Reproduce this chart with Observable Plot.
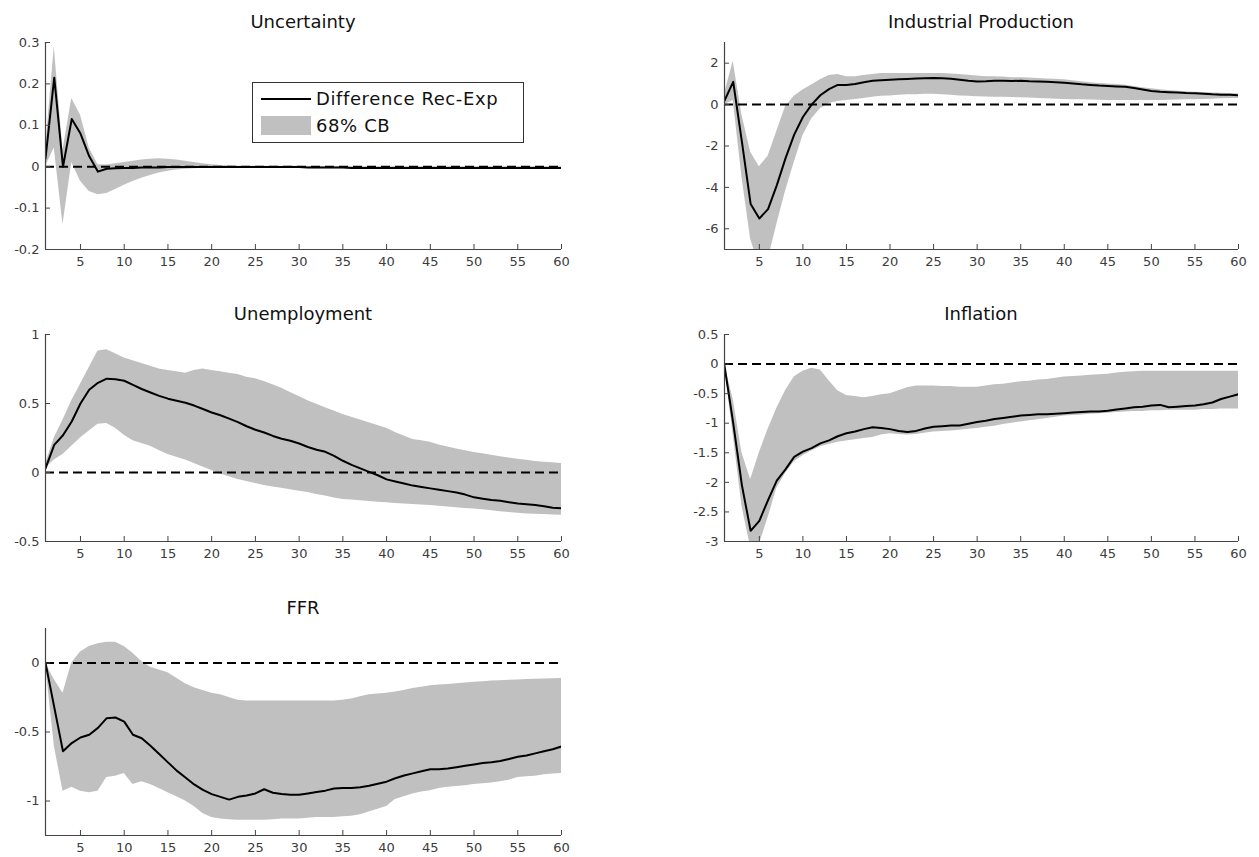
<!DOCTYPE html>
<html>
<head>
<meta charset="utf-8">
<script src="https://cdn.jsdelivr.net/npm/d3@7"></script>
<script src="https://cdn.jsdelivr.net/npm/@observablehq/plot@0.6"></script>
<style>
  body { margin: 0; background: #fff; }
  #chart { position: relative; width: 1259px; height: 857px; background: #fff; font-family: "DejaVu Sans", sans-serif; }
  .ptitle { position: absolute; text-align: center; font-size: 18px; color: #111; line-height: 20px; white-space: nowrap; }
  .panel { position: absolute; }
  .legend { position: absolute; box-sizing: border-box; border: 1px solid #333; background: #fff; font-size: 18px; color: #111; }
</style>
</head>
<body>
<div id="chart"></div>
<script>
// ---------- data ----------
const horizon = Array.from({length: 60}, (_, i) => i + 1);
const xTicks = [5, 10, 15, 20, 25, 30, 35, 40, 45, 50, 55, 60];

const titles = ["Uncertainty", "Industrial Production", "Unemployment", "Inflation", "FFR"];
const legendLabels = ["Difference Rec-Exp", "68% CB"];

// Uncertainty
const uncTicks = [-0.2, -0.1, 0, 0.1, 0.2, 0.3];
const uncMid = [0.02, 0.215, 0.0, 0.115, 0.08, 0.025, -0.012, -0.005, -0.004, -0.003,
  -0.003, -0.002, -0.002, -0.002, -0.001, -0.001, -0.001, -0.001, -0.001, -0.001,
  -0.001, -0.001, -0.001, -0.001, -0.001, -0.001, -0.001, -0.001, -0.001, -0.001,
  -0.002, -0.002, -0.002, -0.002, -0.002, -0.003, -0.003, -0.003, -0.003, -0.003,
  -0.003, -0.003, -0.003, -0.003, -0.003, -0.003, -0.003, -0.003, -0.003, -0.003,
  -0.003, -0.003, -0.003, -0.003, -0.003, -0.003, -0.003, -0.003, -0.003, -0.003];
const uncHi = [0.04, 0.29, 0.04, 0.165, 0.125, 0.045, 0.005, 0.004, 0.007, 0.01,
  0.013, 0.016, 0.018, 0.019, 0.018, 0.016, 0.013, 0.01, 0.007, 0.005,
  0.003, 0.002, 0.001, 0.001, 0.001, 0.001, 0.001, 0.001, 0.001, 0.001,
  0.0, 0.0, 0.0, 0.0, 0.0, 0.0, 0.0, 0.0, 0.0, 0.0,
  0.0, 0.0, 0.0, 0.0, 0.0, 0.0, 0.0, 0.0, 0.0, 0.0,
  0.0, 0.0, 0.0, 0.0, 0.0, 0.0, 0.0, 0.0, 0.0, 0.0];
const uncLo = [0.0, 0.045, -0.14, 0.01, -0.035, -0.06, -0.068, -0.065, -0.055, -0.045,
  -0.036, -0.028, -0.021, -0.015, -0.011, -0.008, -0.006, -0.005, -0.004, -0.004,
  -0.004, -0.004, -0.004, -0.004, -0.004, -0.004, -0.004, -0.004, -0.004, -0.004,
  -0.005, -0.005, -0.005, -0.005, -0.005, -0.005, -0.005, -0.005, -0.005, -0.005,
  -0.005, -0.005, -0.005, -0.005, -0.005, -0.005, -0.005, -0.005, -0.005, -0.005,
  -0.005, -0.005, -0.005, -0.005, -0.005, -0.005, -0.005, -0.005, -0.005, -0.005];

// Industrial Production
const ipTicks = [-6, -4, -2, 0, 2];
const ipMid = [0.2, 1.1, -1.8, -4.8, -5.5, -5.05, -3.9, -2.6, -1.45, -0.6,
  0.0, 0.45, 0.75, 0.95, 0.95, 1.0, 1.08, 1.15, 1.18, 1.2,
  1.22, 1.24, 1.26, 1.27, 1.28, 1.27, 1.25, 1.2, 1.15, 1.12,
  1.13, 1.15, 1.15, 1.14, 1.15, 1.13, 1.12, 1.1, 1.08, 1.05,
  1.02, 0.98, 0.95, 0.92, 0.9, 0.88, 0.86, 0.8, 0.73, 0.66,
  0.62, 0.6, 0.58, 0.56, 0.55, 0.53, 0.5, 0.48, 0.47, 0.45];
const ipHi = [0.5, 2.1, -0.5, -2.3, -3.0, -2.5, -1.3, -0.1, 0.4, 0.7,
  0.95, 1.2, 1.4, 1.45, 1.35, 1.35, 1.4, 1.45, 1.5, 1.5,
  1.5, 1.5, 1.5, 1.5, 1.5, 1.5, 1.48, 1.45, 1.42, 1.38,
  1.35, 1.35, 1.33, 1.3, 1.3, 1.28, 1.26, 1.24, 1.22, 1.2,
  1.15, 1.1, 1.05, 1.02, 1.0, 0.97, 0.93, 0.88, 0.82, 0.76,
  0.72, 0.68, 0.64, 0.62, 0.6, 0.58, 0.56, 0.55, 0.54, 0.53];
const ipLo = [0.0, 0.2, -3.5, -6.5, -7.8, -7.5, -5.8, -4.2, -2.8, -1.5,
  -0.7, -0.2, 0.05, 0.15, 0.2, 0.25, 0.3, 0.35, 0.4, 0.42,
  0.45, 0.47, 0.48, 0.5, 0.5, 0.48, 0.45, 0.42, 0.4, 0.38,
  0.37, 0.36, 0.35, 0.34, 0.33, 0.32, 0.3, 0.28, 0.26, 0.25,
  0.24, 0.23, 0.22, 0.21, 0.2, 0.2, 0.2, 0.2, 0.2, 0.2,
  0.2, 0.21, 0.22, 0.23, 0.24, 0.25, 0.26, 0.28, 0.3, 0.3];

// Unemployment
const unTicks = [-0.5, 0, 0.5, 1];
const unMid = [0.03, 0.2, 0.27, 0.37, 0.5, 0.6, 0.65, 0.68, 0.675, 0.665,
  0.635, 0.605, 0.58, 0.555, 0.535, 0.52, 0.505, 0.485, 0.46, 0.435,
  0.415, 0.39, 0.365, 0.335, 0.31, 0.29, 0.265, 0.245, 0.23, 0.21,
  0.185, 0.165, 0.15, 0.12, 0.085, 0.055, 0.03, 0.005, -0.02, -0.05,
  -0.065, -0.08, -0.095, -0.105, -0.115, -0.125, -0.135, -0.145, -0.16, -0.18,
  -0.19, -0.2, -0.205, -0.215, -0.225, -0.23, -0.235, -0.245, -0.255, -0.26];
const unHi = [0.06, 0.25, 0.38, 0.52, 0.64, 0.76, 0.88, 0.89, 0.86, 0.83,
  0.81, 0.79, 0.77, 0.75, 0.74, 0.73, 0.72, 0.74, 0.75, 0.74,
  0.73, 0.72, 0.71, 0.69, 0.68, 0.66, 0.635, 0.61, 0.58, 0.55,
  0.52, 0.495, 0.47, 0.445, 0.42, 0.4, 0.38, 0.36, 0.34, 0.32,
  0.29, 0.265, 0.24, 0.23, 0.22, 0.2, 0.185, 0.17, 0.158, 0.145,
  0.135, 0.125, 0.115, 0.105, 0.096, 0.088, 0.08, 0.075, 0.07, 0.065];
const unLo = [0.03, 0.09, 0.13, 0.19, 0.25, 0.3, 0.35, 0.355, 0.32, 0.27,
  0.23, 0.21, 0.19, 0.16, 0.13, 0.11, 0.09, 0.065, 0.04, 0.015,
  -0.01, -0.03, -0.05, -0.065, -0.08, -0.095, -0.105, -0.115, -0.125, -0.135,
  -0.145, -0.16, -0.17, -0.185, -0.195, -0.2, -0.205, -0.21, -0.215, -0.22,
  -0.225, -0.228, -0.232, -0.236, -0.24, -0.245, -0.25, -0.255, -0.26, -0.265,
  -0.27, -0.278, -0.285, -0.29, -0.295, -0.3, -0.302, -0.305, -0.308, -0.31];

// Inflation
const infTicks = [-3, -2.5, -2, -1.5, -1, -0.5, 0, 0.5];
const infMid = [-0.03, -1.0, -2.05, -2.82, -2.65, -2.3, -1.97, -1.78, -1.57, -1.48,
  -1.42, -1.34, -1.29, -1.22, -1.17, -1.14, -1.1, -1.07, -1.08, -1.1,
  -1.13, -1.15, -1.13, -1.09, -1.06, -1.05, -1.04, -1.04, -1.01, -0.98,
  -0.96, -0.93, -0.91, -0.89, -0.87, -0.86, -0.85, -0.85, -0.84, -0.83,
  -0.82, -0.81, -0.8, -0.8, -0.79, -0.77, -0.75, -0.73, -0.72, -0.7,
  -0.69, -0.73, -0.72, -0.71, -0.7, -0.68, -0.65, -0.59, -0.55, -0.51];
const infHi = [0.0, -0.6, -1.5, -1.95, -1.5, -1.1, -0.75, -0.45, -0.22, -0.12,
  -0.07, -0.1, -0.28, -0.45, -0.53, -0.55, -0.57, -0.55, -0.52, -0.5,
  -0.45, -0.4, -0.37, -0.37, -0.37, -0.38, -0.38, -0.39, -0.39, -0.39,
  -0.37, -0.35, -0.34, -0.32, -0.3, -0.29, -0.27, -0.26, -0.24, -0.22,
  -0.21, -0.2, -0.19, -0.18, -0.17, -0.15, -0.14, -0.13, -0.12, -0.12,
  -0.12, -0.12, -0.12, -0.12, -0.12, -0.12, -0.12, -0.12, -0.12, -0.12];
const infLo = [-0.03, -1.2, -2.4, -3.1, -3.05, -2.6, -2.1, -1.85, -1.65, -1.55,
  -1.47, -1.4, -1.36, -1.32, -1.3, -1.28, -1.26, -1.24, -1.2, -1.18,
  -1.19, -1.2, -1.19, -1.17, -1.15, -1.14, -1.13, -1.12, -1.1, -1.09,
  -1.07, -1.05, -1.02, -1.0, -0.98, -0.96, -0.94, -0.92, -0.9, -0.88,
  -0.87, -0.86, -0.85, -0.84, -0.83, -0.82, -0.81, -0.8, -0.8, -0.79,
  -0.79, -0.78, -0.78, -0.78, -0.78, -0.77, -0.77, -0.76, -0.76, -0.76];

// FFR
const ffrTicks = [-1, -0.5, 0];
const ffrMid = [0.0, -0.32, -0.64, -0.58, -0.54, -0.52, -0.47, -0.4, -0.395, -0.425,
  -0.52, -0.545, -0.6, -0.66, -0.72, -0.78, -0.83, -0.88, -0.92, -0.95,
  -0.97, -0.99, -0.97, -0.96, -0.945, -0.915, -0.94, -0.95, -0.955, -0.955,
  -0.945, -0.935, -0.925, -0.91, -0.905, -0.905, -0.9, -0.89, -0.875, -0.86,
  -0.835, -0.815, -0.8, -0.785, -0.77, -0.77, -0.765, -0.755, -0.745, -0.735,
  -0.725, -0.72, -0.71, -0.695, -0.68, -0.67, -0.655, -0.64, -0.625, -0.605];
const ffrHi = [0.0, -0.12, -0.22, 0.0, 0.08, 0.12, 0.14, 0.15, 0.15, 0.12,
  0.07, 0.01, -0.03, -0.05, -0.07, -0.11, -0.15, -0.18, -0.2, -0.22,
  -0.23, -0.25, -0.27, -0.275, -0.275, -0.275, -0.275, -0.275, -0.275, -0.275,
  -0.275, -0.275, -0.275, -0.275, -0.27, -0.26, -0.245, -0.23, -0.225, -0.22,
  -0.21, -0.2, -0.185, -0.175, -0.165, -0.16, -0.155, -0.15, -0.145, -0.14,
  -0.135, -0.13, -0.128, -0.125, -0.123, -0.12, -0.118, -0.116, -0.114, -0.112];
const ffrLo = [0.0, -0.6, -0.93, -0.9, -0.93, -0.94, -0.93, -0.83, -0.82, -0.8,
  -0.88, -0.86, -0.88, -0.91, -0.94, -0.97, -1.0, -1.04, -1.09, -1.12,
  -1.13, -1.135, -1.14, -1.14, -1.14, -1.14, -1.135, -1.13, -1.13, -1.13,
  -1.125, -1.12, -1.12, -1.12, -1.115, -1.11, -1.1, -1.08, -1.06, -1.04,
  -0.99, -0.97, -0.95, -0.935, -0.925, -0.91, -0.9, -0.895, -0.89, -0.88,
  -0.875, -0.87, -0.86, -0.85, -0.83, -0.825, -0.82, -0.81, -0.805, -0.8];

// ---------- layout ----------
const FH = 207;                       // frame height
const MT = 10, MB = 26;
const cols = [
  {left: 0,   ml: 45, width: 600, mr: 39},
  {left: 680, ml: 44, width: 579, mr: 21}
];
const rowTop = [42, 334, 628];

const panels = [
  {title: titles[0], col: 0, row: 0, mid: uncMid, lo: uncLo, hi: uncHi, domain: [-0.2, 0.3], ticks: uncTicks, legend: true},
  {title: titles[1], col: 1, row: 0, mid: ipMid, lo: ipLo, hi: ipHi, domain: [-7, 3], ticks: ipTicks},
  {title: titles[2], col: 0, row: 1, mid: unMid, lo: unLo, hi: unHi, domain: [-0.5, 1], ticks: unTicks},
  {title: titles[3], col: 1, row: 1, mid: infMid, lo: infLo, hi: infHi, domain: [-3, 0.5], ticks: infTicks},
  {title: titles[4], col: 0, row: 2, mid: ffrMid, lo: ffrLo, hi: ffrHi, domain: [-1.25, 0.25], ticks: ffrTicks}
];

const chart = document.getElementById("chart");
const fmt = d => String(d);

for (const p of panels) {
  const c = cols[p.col];
  const top = rowTop[p.row];
  const fw = c.width - c.ml - c.mr;
  const data = horizon.map((h, i) => ({h, m: p.mid[i], l: p.lo[i], u: p.hi[i]}));

  const svg = Plot.plot({
    width: c.width,
    height: FH + MT + MB,
    marginTop: MT, marginBottom: MB, marginLeft: c.ml, marginRight: c.mr,
    x: {domain: [1, 60], label: null},
    y: {domain: p.domain, label: null},
    style: {fontFamily: "DejaVu Sans, sans-serif", fontSize: "13px", color: "#3c3c3c", background: "transparent", overflow: "visible"},
    marks: [
      Plot.areaY(data, {x: "h", y1: "l", y2: "u", fill: "#c0c0c0", clip: true}),
      Plot.ruleY([0], {stroke: "#000", strokeWidth: 2, strokeDasharray: "9,5"}),
      Plot.lineY(data, {x: "h", y: "m", stroke: "#000", strokeWidth: 2, clip: true}),
      Plot.ruleX([1], {stroke: "#444", strokeWidth: 1.2}),
      Plot.ruleY([p.domain[0]], {stroke: "#444", strokeWidth: 1.2}),
      Plot.tickX(xTicks, {x: d => d, stroke: "#444", insetTop: FH - 5}),
      Plot.tickY(p.ticks, {y: d => d, stroke: "#444", insetRight: fw - 5}),
      Plot.axisX(xTicks, {tickSize: 0, tickPadding: 7, tickFormat: fmt, label: null}),
      Plot.axisY(p.ticks, {tickSize: 0, tickPadding: 6, tickFormat: fmt, label: null})
    ]
  });

  const div = document.createElement("div");
  div.className = "panel";
  div.style.left = c.left + "px";
  div.style.top = (top - MT) + "px";
  div.appendChild(svg);
  chart.appendChild(div);

  const t = document.createElement("div");
  t.className = "ptitle";
  t.textContent = p.title;
  t.style.left = (c.left + c.ml) + "px";
  t.style.width = fw + "px";
  t.style.top = (top - 20 - 10) + "px";
  chart.appendChild(t);

  if (p.legend) {
    const lg = document.createElement("div");
    lg.className = "legend";
    lg.style.left = "252px";
    lg.style.top = "82px";
    lg.style.width = "272px";
    lg.style.height = "61px";
    lg.innerHTML =
      `<svg width="60" height="59" style="position:absolute;left:0;top:0">
         <line x1="8" x2="58" y1="16" y2="16" stroke="#000" stroke-width="2"></line>
         <rect x="8" y="33" width="50" height="19" fill="#c0c0c0"></rect>
       </svg>
       <div style="position:absolute;left:63px;top:5px;line-height:22px;letter-spacing:0.6px;white-space:nowrap">${legendLabels[0]}</div>
       <div style="position:absolute;left:63px;top:32px;line-height:22px;letter-spacing:0.6px;white-space:nowrap">${legendLabels[1]}</div>`;
    chart.appendChild(lg);
  }
}
</script>
</body>
</html>
